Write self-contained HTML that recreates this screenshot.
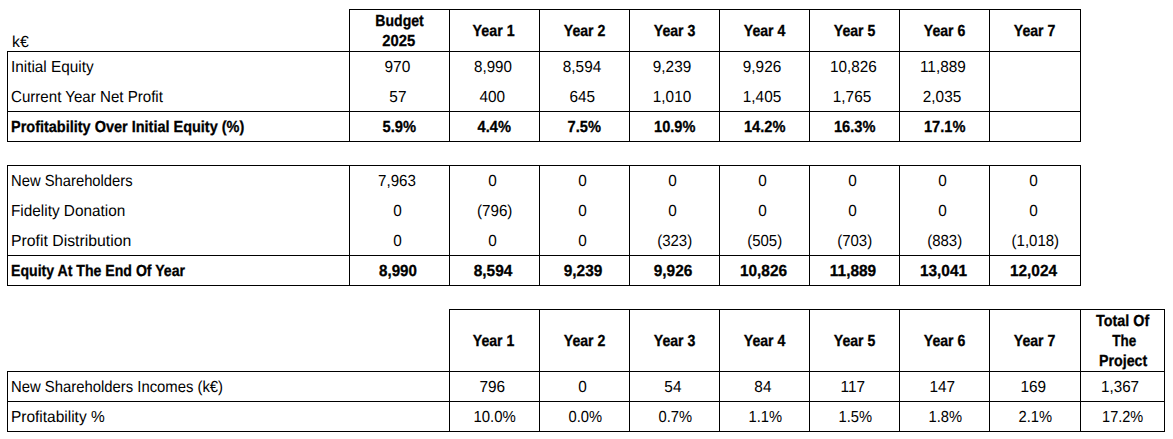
<!DOCTYPE html><html><head><meta charset="utf-8"><style>
html,body{margin:0;padding:0;background:#fff;}
body{width:1173px;height:439px;position:relative;overflow:hidden;font-family:"Liberation Sans",sans-serif;font-size:16px;color:#000;text-rendering:geometricPrecision;}
.l{position:absolute;background:#000;}
.t{position:absolute;white-space:nowrap;line-height:18px;height:18px;}
.c{text-align:center;}
.t span{display:inline-block;}
.b{font-weight:bold;-webkit-text-stroke:0.3px #000;}
</style></head><body>
<div class="l" style="left:349px;top:9px;width:732px;height:1px"></div>
<div class="l" style="left:7px;top:51px;width:1074px;height:1px"></div>
<div class="l" style="left:7px;top:111px;width:1074px;height:1px"></div>
<div class="l" style="left:7px;top:141px;width:1074px;height:1px"></div>
<div class="l" style="left:7px;top:51px;width:1px;height:91px"></div>
<div class="l" style="left:349px;top:9px;width:1px;height:133px"></div>
<div class="l" style="left:449px;top:9px;width:1px;height:133px"></div>
<div class="l" style="left:539px;top:9px;width:1px;height:133px"></div>
<div class="l" style="left:629px;top:9px;width:1px;height:133px"></div>
<div class="l" style="left:719px;top:9px;width:1px;height:133px"></div>
<div class="l" style="left:809px;top:9px;width:1px;height:133px"></div>
<div class="l" style="left:899px;top:9px;width:1px;height:133px"></div>
<div class="l" style="left:989px;top:9px;width:1px;height:133px"></div>
<div class="l" style="left:1080px;top:9px;width:1px;height:133px"></div>
<div class="l" style="left:7px;top:165px;width:1074px;height:1px"></div>
<div class="l" style="left:7px;top:255px;width:1074px;height:1px"></div>
<div class="l" style="left:7px;top:285px;width:1074px;height:1px"></div>
<div class="l" style="left:7px;top:165px;width:1px;height:121px"></div>
<div class="l" style="left:349px;top:165px;width:1px;height:121px"></div>
<div class="l" style="left:449px;top:165px;width:1px;height:121px"></div>
<div class="l" style="left:539px;top:165px;width:1px;height:121px"></div>
<div class="l" style="left:629px;top:165px;width:1px;height:121px"></div>
<div class="l" style="left:719px;top:165px;width:1px;height:121px"></div>
<div class="l" style="left:809px;top:165px;width:1px;height:121px"></div>
<div class="l" style="left:899px;top:165px;width:1px;height:121px"></div>
<div class="l" style="left:989px;top:165px;width:1px;height:121px"></div>
<div class="l" style="left:1080px;top:165px;width:1px;height:121px"></div>
<div class="l" style="left:449px;top:309px;width:716px;height:1px"></div>
<div class="l" style="left:7px;top:371px;width:1158px;height:1px"></div>
<div class="l" style="left:7px;top:401px;width:1158px;height:1px"></div>
<div class="l" style="left:7px;top:431px;width:1158px;height:1px"></div>
<div class="l" style="left:7px;top:371px;width:1px;height:61px"></div>
<div class="l" style="left:449px;top:309px;width:1px;height:123px"></div>
<div class="l" style="left:539px;top:309px;width:1px;height:123px"></div>
<div class="l" style="left:629px;top:309px;width:1px;height:123px"></div>
<div class="l" style="left:719px;top:309px;width:1px;height:123px"></div>
<div class="l" style="left:809px;top:309px;width:1px;height:123px"></div>
<div class="l" style="left:899px;top:309px;width:1px;height:123px"></div>
<div class="l" style="left:989px;top:309px;width:1px;height:123px"></div>
<div class="l" style="left:1080px;top:309px;width:1px;height:123px"></div>
<div class="l" style="left:1164px;top:309px;width:1px;height:123px"></div>
<div class="t" style="left:11.6px;top:34px"><span style="transform:scaleX(0.9884);transform-origin:left">k€</span></div>
<div class="t b c" style="left:349.7px;top:13px;width:100px"><span style="transform:scaleX(0.8789);transform-origin:center">Budget</span></div>
<div class="t b c" style="left:349.2px;top:33px;width:100px"><span style="transform:scaleX(0.9244);transform-origin:center">2025</span></div>
<div class="t b c" style="left:448.65px;top:23px;width:90px"><span style="transform:scaleX(0.8896);transform-origin:center">Year 1</span></div>
<div class="t b c" style="left:539.45px;top:23px;width:90px"><span style="transform:scaleX(0.8810);transform-origin:center">Year 2</span></div>
<div class="t b c" style="left:629.45px;top:23px;width:90px"><span style="transform:scaleX(0.8810);transform-origin:center">Year 3</span></div>
<div class="t b c" style="left:719.45px;top:23px;width:90px"><span style="transform:scaleX(0.8810);transform-origin:center">Year 4</span></div>
<div class="t b c" style="left:809.45px;top:23px;width:90px"><span style="transform:scaleX(0.8810);transform-origin:center">Year 5</span></div>
<div class="t b c" style="left:899.45px;top:23px;width:90px"><span style="transform:scaleX(0.8810);transform-origin:center">Year 6</span></div>
<div class="t b c" style="left:989.45px;top:23px;width:91px"><span style="transform:scaleX(0.8810);transform-origin:center">Year 7</span></div>
<div class="t" style="left:11.4px;top:59px"><span style="transform:scaleX(0.9571);transform-origin:left">Initial Equity</span></div>
<div class="t c" style="left:347.6px;top:59px;width:100px"><span style="transform:scaleX(0.9667);transform-origin:center">970</span></div>
<div class="t c" style="left:447.8px;top:59px;width:90px"><span style="transform:scaleX(0.9442);transform-origin:center">8,990</span></div>
<div class="t c" style="left:537.5px;top:59px;width:90px"><span style="transform:scaleX(0.9590);transform-origin:center">8,594</span></div>
<div class="t c" style="left:627.5px;top:59px;width:90px"><span style="transform:scaleX(0.9590);transform-origin:center">9,239</span></div>
<div class="t c" style="left:717.5px;top:59px;width:90px"><span style="transform:scaleX(0.9590);transform-origin:center">9,926</span></div>
<div class="t c" style="left:808.2px;top:59px;width:90px"><span style="transform:scaleX(0.9549);transform-origin:center">10,826</span></div>
<div class="t c" style="left:897.5px;top:59px;width:90px"><span style="transform:scaleX(0.9590);transform-origin:center">11,889</span></div>
<div class="t" style="left:11.0px;top:89px"><span style="transform:scaleX(0.9438);transform-origin:left">Current Year Net Profit</span></div>
<div class="t c" style="left:347.5px;top:89px;width:100px"><span style="transform:scaleX(0.9590);transform-origin:center">57</span></div>
<div class="t c" style="left:447.5px;top:89px;width:90px"><span style="transform:scaleX(0.9590);transform-origin:center">400</span></div>
<div class="t c" style="left:537.5px;top:89px;width:90px"><span style="transform:scaleX(0.9590);transform-origin:center">645</span></div>
<div class="t c" style="left:627.5px;top:89px;width:90px"><span style="transform:scaleX(0.9590);transform-origin:center">1,010</span></div>
<div class="t c" style="left:717.5px;top:89px;width:90px"><span style="transform:scaleX(0.9590);transform-origin:center">1,405</span></div>
<div class="t c" style="left:807.5px;top:89px;width:90px"><span style="transform:scaleX(0.9590);transform-origin:center">1,765</span></div>
<div class="t c" style="left:897.5px;top:89px;width:90px"><span style="transform:scaleX(0.9590);transform-origin:center">2,035</span></div>
<div class="t b" style="left:11.4px;top:119px"><span style="transform:scaleX(0.9048);transform-origin:left">Profitability Over Initial Equity (%)</span></div>
<div class="t b c" style="left:349.15px;top:119px;width:100px"><span style="transform:scaleX(0.9196);transform-origin:center">5.9%</span></div>
<div class="t b c" style="left:449.65px;top:119px;width:90px"><span style="transform:scaleX(0.9140);transform-origin:center">4.4%</span></div>
<div class="t b c" style="left:539.65px;top:119px;width:90px"><span style="transform:scaleX(0.9140);transform-origin:center">7.5%</span></div>
<div class="t b c" style="left:629.75px;top:119px;width:90px"><span style="transform:scaleX(0.9101);transform-origin:center">10.9%</span></div>
<div class="t b c" style="left:719.65px;top:119px;width:90px"><span style="transform:scaleX(0.9140);transform-origin:center">14.2%</span></div>
<div class="t b c" style="left:809.65px;top:119px;width:90px"><span style="transform:scaleX(0.9140);transform-origin:center">16.3%</span></div>
<div class="t b c" style="left:899.65px;top:119px;width:90px"><span style="transform:scaleX(0.9140);transform-origin:center">17.1%</span></div>
<div class="t" style="left:11.0px;top:173px"><span style="transform:scaleX(0.9240);transform-origin:left">New Shareholders</span></div>
<div class="t c" style="left:347.4px;top:173px;width:100px"><span style="transform:scaleX(0.9442);transform-origin:center">7,963</span></div>
<div class="t c" style="left:447.5px;top:173px;width:90px"><span style="transform:scaleX(0.9590);transform-origin:center">0</span></div>
<div class="t c" style="left:537.5px;top:173px;width:90px"><span style="transform:scaleX(0.9590);transform-origin:center">0</span></div>
<div class="t c" style="left:627.5px;top:173px;width:90px"><span style="transform:scaleX(0.9590);transform-origin:center">0</span></div>
<div class="t c" style="left:717.5px;top:173px;width:90px"><span style="transform:scaleX(0.9590);transform-origin:center">0</span></div>
<div class="t c" style="left:807.5px;top:173px;width:90px"><span style="transform:scaleX(0.9590);transform-origin:center">0</span></div>
<div class="t c" style="left:897.5px;top:173px;width:90px"><span style="transform:scaleX(0.9590);transform-origin:center">0</span></div>
<div class="t c" style="left:987.5px;top:173px;width:91px"><span style="transform:scaleX(0.9590);transform-origin:center">0</span></div>
<div class="t" style="left:11.0px;top:203px"><span style="transform:scaleX(0.9586);transform-origin:left">Fidelity Donation</span></div>
<div class="t c" style="left:347.5px;top:203px;width:100px"><span style="transform:scaleX(0.9590);transform-origin:center">0</span></div>
<div class="t c" style="left:449.95px;top:203px;width:90px"><span style="transform:scaleX(0.9484);transform-origin:center">(796)</span></div>
<div class="t c" style="left:537.5px;top:203px;width:90px"><span style="transform:scaleX(0.9590);transform-origin:center">0</span></div>
<div class="t c" style="left:627.5px;top:203px;width:90px"><span style="transform:scaleX(0.9590);transform-origin:center">0</span></div>
<div class="t c" style="left:717.5px;top:203px;width:90px"><span style="transform:scaleX(0.9590);transform-origin:center">0</span></div>
<div class="t c" style="left:807.5px;top:203px;width:90px"><span style="transform:scaleX(0.9590);transform-origin:center">0</span></div>
<div class="t c" style="left:897.5px;top:203px;width:90px"><span style="transform:scaleX(0.9590);transform-origin:center">0</span></div>
<div class="t c" style="left:987.5px;top:203px;width:91px"><span style="transform:scaleX(0.9590);transform-origin:center">0</span></div>
<div class="t" style="left:11.0px;top:233px"><span style="transform:scaleX(0.9867);transform-origin:left">Profit Distribution</span></div>
<div class="t c" style="left:347.5px;top:233px;width:100px"><span style="transform:scaleX(0.9590);transform-origin:center">0</span></div>
<div class="t c" style="left:447.5px;top:233px;width:90px"><span style="transform:scaleX(0.9590);transform-origin:center">0</span></div>
<div class="t c" style="left:537.5px;top:233px;width:90px"><span style="transform:scaleX(0.9590);transform-origin:center">0</span></div>
<div class="t c" style="left:629.55px;top:233px;width:90px"><span style="transform:scaleX(0.9370);transform-origin:center">(323)</span></div>
<div class="t c" style="left:719.55px;top:233px;width:90px"><span style="transform:scaleX(0.9370);transform-origin:center">(505)</span></div>
<div class="t c" style="left:809.55px;top:233px;width:90px"><span style="transform:scaleX(0.9370);transform-origin:center">(703)</span></div>
<div class="t c" style="left:899.55px;top:233px;width:90px"><span style="transform:scaleX(0.9370);transform-origin:center">(883)</span></div>
<div class="t c" style="left:989.75px;top:233px;width:91px"><span style="transform:scaleX(0.9370);transform-origin:center">(1,018)</span></div>
<div class="t b" style="left:11.0px;top:263px"><span style="transform:scaleX(0.8818);transform-origin:left">Equity At The End Of Year</span></div>
<div class="t b c" style="left:347.9px;top:263px;width:100px"><span style="transform:scaleX(0.9439);transform-origin:center">8,990</span></div>
<div class="t b c" style="left:448.3px;top:263px;width:90px"><span style="transform:scaleX(0.9640);transform-origin:center">8,594</span></div>
<div class="t b c" style="left:538.3px;top:263px;width:90px"><span style="transform:scaleX(0.9640);transform-origin:center">9,239</span></div>
<div class="t b c" style="left:628.3px;top:263px;width:90px"><span style="transform:scaleX(0.9640);transform-origin:center">9,926</span></div>
<div class="t b c" style="left:718.3px;top:263px;width:90px"><span style="transform:scaleX(0.9640);transform-origin:center">10,826</span></div>
<div class="t b c" style="left:808.3px;top:263px;width:90px"><span style="transform:scaleX(0.9640);transform-origin:center">11,889</span></div>
<div class="t b c" style="left:898.3px;top:263px;width:90px"><span style="transform:scaleX(0.9640);transform-origin:center">13,041</span></div>
<div class="t b c" style="left:988.3px;top:263px;width:91px"><span style="transform:scaleX(0.9640);transform-origin:center">12,024</span></div>
<div class="t b c" style="left:448.85px;top:333px;width:90px"><span style="transform:scaleX(0.8811);transform-origin:center">Year 1</span></div>
<div class="t b c" style="left:539.45px;top:333px;width:90px"><span style="transform:scaleX(0.8810);transform-origin:center">Year 2</span></div>
<div class="t b c" style="left:629.45px;top:333px;width:90px"><span style="transform:scaleX(0.8810);transform-origin:center">Year 3</span></div>
<div class="t b c" style="left:719.45px;top:333px;width:90px"><span style="transform:scaleX(0.8810);transform-origin:center">Year 4</span></div>
<div class="t b c" style="left:809.45px;top:333px;width:90px"><span style="transform:scaleX(0.8810);transform-origin:center">Year 5</span></div>
<div class="t b c" style="left:899.45px;top:333px;width:90px"><span style="transform:scaleX(0.8810);transform-origin:center">Year 6</span></div>
<div class="t b c" style="left:989.45px;top:333px;width:91px"><span style="transform:scaleX(0.8810);transform-origin:center">Year 7</span></div>
<div class="t b c" style="left:1080.2px;top:313px;width:84px"><span style="transform:scaleX(0.8968);transform-origin:center">Total Of</span></div>
<div class="t b c" style="left:1081.9px;top:333px;width:84px"><span style="transform:scaleX(0.8402);transform-origin:center">The</span></div>
<div class="t b c" style="left:1081.0px;top:353px;width:84px"><span style="transform:scaleX(0.8904);transform-origin:center">Project</span></div>
<div class="t" style="left:11.0px;top:379px"><span style="transform:scaleX(0.9279);transform-origin:left">New Shareholders Incomes (k€)</span></div>
<div class="t c" style="left:447.5px;top:379px;width:90px"><span style="transform:scaleX(0.9590);transform-origin:center">796</span></div>
<div class="t c" style="left:537.5px;top:379px;width:90px"><span style="transform:scaleX(0.9590);transform-origin:center">0</span></div>
<div class="t c" style="left:627.5px;top:379px;width:90px"><span style="transform:scaleX(0.9590);transform-origin:center">54</span></div>
<div class="t c" style="left:717.5px;top:379px;width:90px"><span style="transform:scaleX(0.9590);transform-origin:center">84</span></div>
<div class="t c" style="left:807.5px;top:379px;width:90px"><span style="transform:scaleX(0.9590);transform-origin:center">117</span></div>
<div class="t c" style="left:897.5px;top:379px;width:90px"><span style="transform:scaleX(0.9590);transform-origin:center">147</span></div>
<div class="t c" style="left:987.5px;top:379px;width:91px"><span style="transform:scaleX(0.9590);transform-origin:center">169</span></div>
<div class="t c" style="left:1078.3px;top:379px;width:84px"><span style="transform:scaleX(0.9487);transform-origin:center">1,367</span></div>
<div class="t" style="left:11.0px;top:409px"><span style="transform:scaleX(0.9667);transform-origin:left">Profitability %</span></div>
<div class="t c" style="left:450.05px;top:409px;width:90px"><span style="transform:scaleX(0.9339);transform-origin:center">10.0%</span></div>
<div class="t c" style="left:539.95px;top:409px;width:90px"><span style="transform:scaleX(0.9200);transform-origin:center">0.0%</span></div>
<div class="t c" style="left:629.95px;top:409px;width:90px"><span style="transform:scaleX(0.9200);transform-origin:center">0.7%</span></div>
<div class="t c" style="left:719.95px;top:409px;width:90px"><span style="transform:scaleX(0.9200);transform-origin:center">1.1%</span></div>
<div class="t c" style="left:809.95px;top:409px;width:90px"><span style="transform:scaleX(0.9200);transform-origin:center">1.5%</span></div>
<div class="t c" style="left:899.95px;top:409px;width:90px"><span style="transform:scaleX(0.9200);transform-origin:center">1.8%</span></div>
<div class="t c" style="left:989.95px;top:409px;width:91px"><span style="transform:scaleX(0.9200);transform-origin:center">2.1%</span></div>
<div class="t c" style="left:1080.65px;top:409px;width:84px"><span style="transform:scaleX(0.9071);transform-origin:center">17.2%</span></div>
</body></html>
